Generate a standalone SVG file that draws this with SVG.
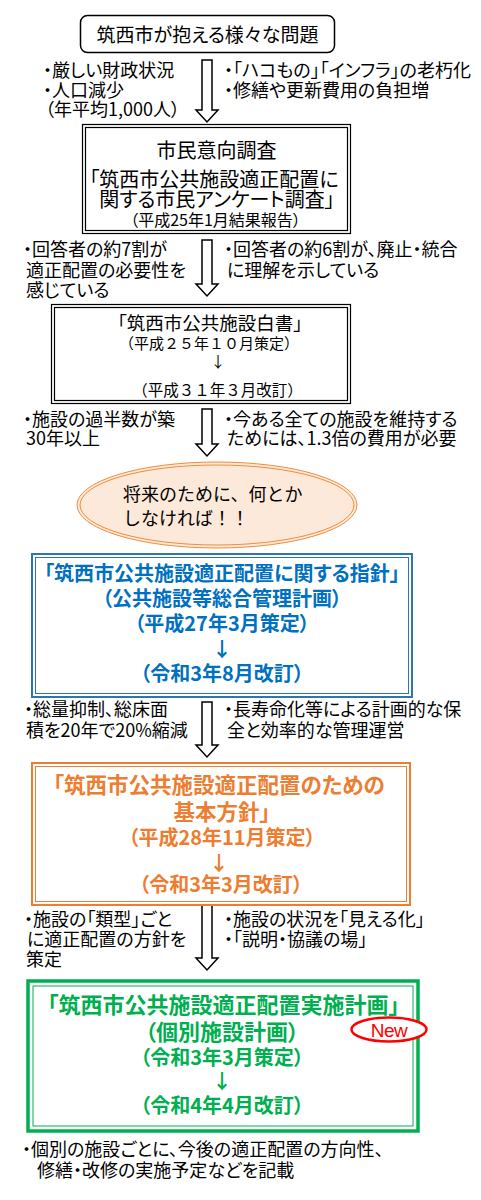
<svg xmlns="http://www.w3.org/2000/svg" width="481" height="1200" viewBox="0 0 481 1200">
<style>
text{font-family:"Noto Sans CJK JP","Noto Sans CJK SC",sans-serif;fill:#000;font-feature-settings:"palt";}
.a{font-size:18px;}
.m{text-anchor:middle;}
.b{font-weight:bold;}
.np{font-feature-settings:normal;}
.blue{fill:#0070C0;}
.orange{fill:#ED7D31;}
.green{fill:#00B050;}
.arrow{fill:#fff;stroke:#000;stroke-width:1.5;stroke-linejoin:miter;}
.dbl{fill:none;stroke:#000;stroke-width:1.2;}
</style>
<rect width="481" height="1200" fill="#fff"/>

<g id="connectors">
<path class="arrow" d="M202,60 H212 V110 H218 L207,122 L196,110 H202 Z"/>
<path class="arrow" d="M202,240 H212 V284 H218 L207,296 L196,284 H202 Z"/>
<path class="arrow" d="M202,409 H212 V444 H218 L207,456 L196,444 H202 Z"/>
<path class="arrow" d="M202,702 H212 V745 H218 L207,757 L196,745 H202 Z"/>
<path class="arrow" d="M202,905 H212 V958 H218 L207,970 L196,958 H202 Z"/>
</g>

<g id="node-problems">
<rect x="80.5" y="15.5" width="254" height="37" rx="7" fill="#fff" stroke="#000" stroke-width="1.5"/>
<text x="207.5" y="42" font-size="19" class="m">筑西市が抱える様々な問題</text>
</g>

<g id="node-survey">
<rect class="dbl" x="82.5" y="124.5" width="268" height="109"/>
<rect class="dbl" x="85.5" y="127.5" width="262" height="103"/>
<text x="216.5" y="157.5" font-size="20" class="m">市民意向調査</text>
<text x="214" y="186.5" font-size="20" class="m">「筑西市公共施設適正配置に</text>
<text x="217" y="207" font-size="20" class="m">関する市民アンケート調査」</text>
<text x="215.5" y="225.5" font-size="16" class="m">（平成25年1月結果報告）</text>
</g>

<g id="node-hakusho">
<rect class="dbl" x="51.5" y="304.5" width="299" height="99" stroke="#333"/>
<rect class="dbl" x="54.5" y="307.5" width="293" height="93" stroke="#333"/>
<text x="210" y="330" font-size="18.5" class="m">「筑西市公共施設白書」</text>
<text x="209" y="349" font-size="15" class="m np">（平成２５年１０月策定）</text>
<text x="218" y="367" font-size="15" class="m">↓</text>
<text x="217.5" y="396" font-size="15.5" class="m np">（平成３１年３月改訂）</text>
</g>

<g id="node-must">
<ellipse cx="217" cy="505" rx="140" ry="43" fill="#FDE9D9" stroke="#F08C3C" stroke-width="1"/>
<ellipse cx="217" cy="505" rx="137" ry="40" fill="none" stroke="#F08C3C" stroke-width="1"/>
<text x="123" y="500.5" font-size="18" class="np">将来のために、何とか</text>
<text x="123" y="524.5" font-size="18" class="np">しなければ！！</text>
</g>

<g id="node-shishin">
<rect x="32" y="554" width="380" height="143" fill="none" stroke="#2E75B6" stroke-width="2"/>
<rect x="35.5" y="557.5" width="373" height="136" fill="none" stroke="#2E75B6" stroke-width="1"/>
<text x="222" y="581" font-size="20" class="m b blue">「筑西市公共施設適正配置に関する指針」</text>
<text x="222" y="606" font-size="20" class="m b blue">（公共施設等総合管理計画）</text>
<text x="222" y="631" font-size="20" class="m b blue">（平成27年3月策定）</text>
<text x="222" y="657" font-size="20" class="m b blue">↓</text>
<text x="222" y="681" font-size="20" class="m b blue">（令和3年8月改訂）</text>
</g>

<g id="node-houshin">
<rect x="32" y="763" width="378" height="142" fill="none" stroke="#ED7D31" stroke-width="2"/>
<rect x="35.5" y="766.5" width="371" height="135" fill="none" stroke="#ED7D31" stroke-width="1"/>
<text x="219" y="793" font-size="21.5" class="m b orange">「筑西市公共施設適正配置のための</text>
<text x="222" y="820" font-size="21.5" class="m b orange">基本方針」</text>
<text x="222" y="845" font-size="20" class="m b orange">（平成28年11月策定）</text>
<text x="219" y="871" font-size="20" class="m b orange">↓</text>
<text x="221" y="892" font-size="20" class="m b orange">（令和3年3月改訂）</text>
</g>

<g id="node-jisshi">
<rect x="28" y="981" width="390" height="150" fill="none" stroke="#00B050" stroke-width="3.5"/>
<rect x="33" y="986" width="380" height="140" fill="none" stroke="#00B050" stroke-width="1"/>
<text x="223.5" y="1013" font-size="22" class="m b green">「筑西市公共施設適正配置実施計画」</text>
<text x="222" y="1040" font-size="22" class="m b green">（個別施設計画）</text>
<text x="222" y="1065" font-size="20" class="m b green">（令和3年3月策定）</text>
<text x="222" y="1089" font-size="20" class="m b green">↓</text>
<text x="222" y="1113" font-size="20" class="m b green">（令和4年4月改訂）</text>
</g>

<g id="badge-new">
<ellipse cx="389" cy="1029.5" rx="37.5" ry="12" fill="#fff" stroke="#FF0000" stroke-width="2.5"/>
<text x="389" y="1036.5" font-size="19" class="m" style="font-family:'Liberation Sans',Arial,sans-serif;fill:#FF0000;letter-spacing:-0.5px">New</text>
</g>

<g id="labels">
<text class="a" x="43" y="76.5">・厳しい財政状況</text>
<text class="a" x="43" y="96.5">・人口減少</text>
<text class="a" x="45" y="115.5">（年平均1,000人）</text>
<text class="a" x="224" y="76.5">・「ハコもの」「インフラ」の老朽化</text>
<text class="a" x="224" y="96.5">・修繕や更新費用の負担増</text>

<text class="a" x="23" y="255.5">・回答者の約7割が</text>
<text class="a" x="26" y="276.5">適正配置の必要性を</text>
<text class="a" x="26" y="296.5">感じている</text>
<text class="a" x="224" y="255.5">・回答者の約6割が、廃止・統合</text>
<text class="a" x="227" y="276.5">に理解を示している</text>

<text class="a" x="23" y="426">・施設の過半数が築</text>
<text class="a" x="26" y="445">30年以上</text>
<text class="a" x="224" y="426">・今ある全ての施設を維持する</text>
<text class="a" x="227" y="445">ためには、1.3倍の費用が必要</text>

<text class="a" x="24" y="716">・総量抑制、総床面</text>
<text class="a" x="26" y="737">積を20年で20%縮減</text>
<text class="a" x="224" y="716">・長寿命化等による計画的な保</text>
<text class="a" x="227" y="737">全と効率的な管理運営</text>

<text class="a" x="24" y="926">・施設の「類型」ごと</text>
<text class="a" x="27" y="946">に適正配置の方針を</text>
<text class="a" x="26" y="966">策定</text>
<text class="a" x="224" y="926">・施設の状況を「見える化」</text>
<text class="a" x="224" y="946">・「説明・協議の場」</text>

<text class="a" x="22" y="1156">・個別の施設ごとに、今後の適正配置の方向性、</text>
<text class="a" x="37" y="1177">修繕・改修の実施予定などを記載</text>
</g>
</svg>
